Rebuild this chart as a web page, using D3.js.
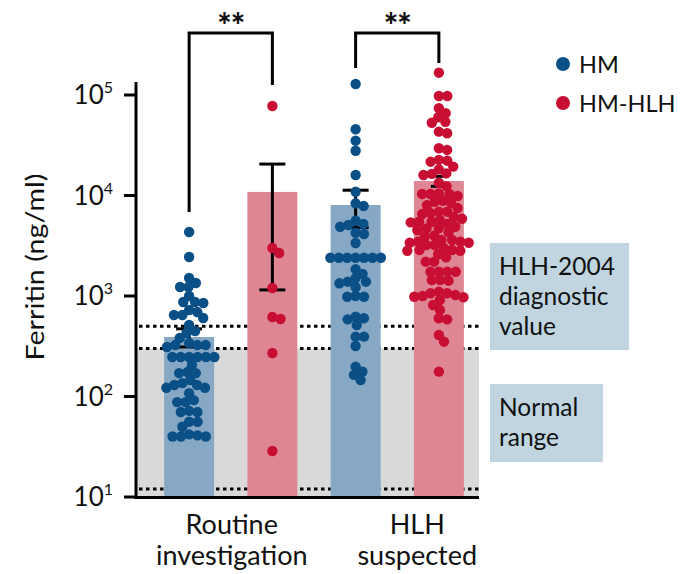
<!DOCTYPE html>
<html>
<head>
<meta charset="utf-8">
<script src="https://cdn.jsdelivr.net/npm/d3@7"></script>
<style>
  html, body { margin: 0; padding: 0; background: #fff; }
  svg { display: block; }
  text { font-family: Lato, "Open Sans", sans-serif; fill: #111; }
</style>
</head>
<body>
<svg id="chart" width="684" height="574"></svg>
<script>
// ---------------- data ----------------
const groups = ["Routine investigation", "HLH suspected"];
const groupLines = [["Routine", "investigation"], ["HLH", "suspected"]];
const seriesNames = ["HM", "HM-HLH"];
const tickValues = [10, 100, 1000, 10000, 100000];
const tickExponents = ["1", "2", "3", "4", "5"];

const hmRoutine = [4335, 2443, 1510, 1230, 1347, 1230, 1000, 871, 871, 851, 726, 693, 647, 647, 604,
  514, 449, 428, 382, 325, 341, 325, 325, 311, 247, 247, 247, 247, 247, 247, 206, 175, 171, 171,
  146, 130, 122, 122, 136, 130, 108, 88, 88, 92, 72, 70, 70, 56, 56, 50, 40, 40, 41, 40, 42];
const hlhRoutine = [77800, 3005, 2680, 1202, 590, 618, 271, 28.7];
const hmSuspected = [128600, 45600, 35100, 27900, 16000, 10900, 7870, 8360, 4890, 4260, 5200, 5610,
  5090, 4140, 3370, 2404, 2404, 2404, 2404, 2404, 2404, 2404, 1845, 1656, 1500, 1388, 1388, 1337,
  1222, 984, 984, 1000, 600, 586, 514, 622, 394, 394, 318, 198, 177, 164, 146];
const hlhSuspected = [166700, 97700, 97700, 73800, 65800, 60000, 54200, 53000, 41600, 43200, 29500,
  28400, 21700, 22600, 22200, 19400, 18200, 16000, 16600, 16400, 13400, 12400, 9890, 10350, 10500,
  10350, 10350, 8670, 8470, 8870, 6900, 6900, 6650, 6550, 5700, 5870, 5480, 5480, 4710, 4710, 4540,
  4890, 3470, 3610, 3610, 3470, 3390, 3390, 3220, 3220, 2820, 2820, 2870, 2870, 2195, 2195, 2430,
  1745, 1745, 1745, 1745, 1420, 1443, 1443, 1104, 1064, 1064, 1023, 984, 971, 1000, 912, 813, 726,
  586, 600, 409, 351, 177, 5200, 4300, 3900, 6100, 7500, 3000, 2600, 8000, 4000, 5400];

const barMeans = [[391, 10850], [8040, 13930]];
const barSEM = [[80, 9700], [3250, 1600]];
const bracketEnds = [[6850, 126000], [186000, 208000]];   // lower ends of the bracket legs
const normalRange = [12, 300];
const diagnosticValue = 500;

// ---------------- layout ----------------
const svg = d3.select("#chart");
const y = d3.scaleLog().domain([10, 100000]).range([497, 95]);
const x0 = d3.scaleBand().domain(groups).range([147.5, 480.5]).padding(0);
const x1 = d3.scalePoint().domain(seriesNames).range([0, x0.bandwidth()]).padding(0.5);
const color = d3.scaleOrdinal().domain(seriesNames).range(["#0b4f87", "#c80f33"]);
const barColor = d3.scaleOrdinal().domain(seriesNames).range(["#87a8c5", "#df8694"]);
const barW = 50;
const plotL = 137, plotR = 479;
const cx = (g, s) => x0(groups[g]) + x1(seriesNames[s]);

// gray normal-range band
svg.append("rect")
  .attr("x", plotL).attr("width", plotR - plotL)
  .attr("y", y(normalRange[1])).attr("height", y(10) - y(normalRange[1]))
  .attr("fill", "#d9d9d9");

// dotted reference lines
[normalRange[0], normalRange[1], diagnosticValue].forEach(v => {
  svg.append("line")
    .attr("x1", plotL + 2).attr("x2", plotR)
    .attr("y1", y(v)).attr("y2", y(v))
    .attr("stroke", "#000").attr("stroke-width", 3)
    .attr("stroke-dasharray", "3.5,3.5");
});

// bars
const allData = [[hmRoutine, hlhRoutine], [hmSuspected, hlhSuspected]];
for (let g = 0; g < 2; g++) for (let s = 0; s < 2; s++) {
  svg.append("rect")
    .attr("x", cx(g, s) - barW / 2).attr("width", barW)
    .attr("y", y(barMeans[g][s])).attr("height", y(10) - y(barMeans[g][s]))
    .attr("fill", barColor(seriesNames[s]));
}

// error bars
const capW = 26;
for (let g = 0; g < 2; g++) for (let s = 0; s < 2; s++) {
  const m = barMeans[g][s], e = barSEM[g][s];
  const c = cx(g, s);
  const w = (g === 1 && s === 1) ? 16 : capW;
  const eb = svg.append("g").attr("stroke", "#000").attr("stroke-width", 3);
  eb.append("line").attr("x1", c).attr("x2", c).attr("y1", y(m + e)).attr("y2", y(m - e));
  eb.append("line").attr("x1", c - w / 2).attr("x2", c + w / 2).attr("y1", y(m + e)).attr("y2", y(m + e));
  eb.append("line").attr("x1", c - w / 2).attr("x2", c + w / 2).attr("y1", y(m - e)).attr("y2", y(m - e));
}

// beeswarm dots
const r = 5.2, minD = 8.4;
function swarm(values) {
  const pts = values.map(v => ({ v, y: y(v) })).sort((a, b) => a.y - b.y);
  const placed = [];
  pts.forEach(p => {
    const cands = [0];
    placed.forEach(q => {
      const dy = Math.abs(q.y - p.y);
      if (dy < minD) {
        const dx = Math.sqrt(minD * minD - dy * dy);
        cands.push(q.x + dx + 0.01, q.x - dx - 0.01);
      }
    });
    cands.sort((a, b) => Math.abs(a) - Math.abs(b));
    for (const c of cands) {
      const ok = placed.every(q => (q.x - c) ** 2 + (q.y - p.y) ** 2 >= minD * minD - 0.001);
      if (ok) { p.x = c; break; }
    }
    placed.push(p);
  });
  return placed;
}
for (let g = 0; g < 2; g++) for (let s = 0; s < 2; s++) {
  const pts = swarm(allData[g][s]);
  svg.append("g").selectAll("circle").data(pts).join("circle")
    .attr("cx", d => cx(g, s) + d.x).attr("cy", d => d.y).attr("r", r)
    .attr("fill", color(seriesNames[s]));
}

// axes
svg.append("line").attr("x1", 136).attr("x2", 136).attr("y1", 82).attr("y2", 499)
  .attr("stroke", "#000").attr("stroke-width", 3);
svg.append("line").attr("x1", 134.5).attr("x2", plotR).attr("y1", 497.5).attr("y2", 497.5)
  .attr("stroke", "#000").attr("stroke-width", 3);
tickValues.forEach((t, i) => {
  svg.append("line").attr("x1", 124).attr("x2", 136).attr("y1", y(t)).attr("y2", y(t))
    .attr("stroke", "#000").attr("stroke-width", 3);
  const tx = svg.append("text").attr("x", 113).attr("y", y(t) + 9)
    .attr("text-anchor", "end").attr("font-size", 26);
  tx.append("tspan").text("10");
  tx.append("tspan").attr("dy", -11).attr("font-size", 16).text(tickExponents[i]);
});

// y label
svg.append("text")
  .attr("transform", "translate(44,267) rotate(-90)")
  .attr("text-anchor", "middle").attr("font-size", 25)
  .attr("textLength", 187).attr("lengthAdjust", "spacingAndGlyphs")
  .text("Ferritin (ng/ml)");

// x labels
const labelOffset = [1, 20];
groups.forEach((g, i) => {
  const t = svg.append("text").attr("text-anchor", "middle").attr("font-size", 27);
  groupLines[i].forEach((ln, j) => {
    t.append("tspan").attr("x", x0(g) + x0.bandwidth() / 2 + labelOffset[i])
      .attr("y", 534 + j * 31).text(ln);
  });
});

// significance brackets
groups.forEach((g, i) => {
  const a = cx(i, 0), b = cx(i, 1), top = 33;
  svg.append("path")
    .attr("d", `M${a},${y(bracketEnds[i][0])}V${top}H${b}V${y(bracketEnds[i][1])}`)
    .attr("fill", "none").attr("stroke", "#000").attr("stroke-width", 3);
  svg.append("text").attr("x", (a + b) / 2).attr("y", 38)
    .attr("text-anchor", "middle").attr("font-size", 34).attr("font-weight", "900")
    .attr("letter-spacing", -1)
    .text("**");
});

// legend
seriesNames.forEach((s, i) => {
  const ly = 64 + i * 39;
  svg.append("circle").attr("cx", 563).attr("cy", ly).attr("r", 7).attr("fill", color(s));
  svg.append("text").attr("x", 579).attr("y", ly + 8.5).attr("font-size", 23.5).text(s);
});

// annotation boxes
const boxes = [
  { x: 490, y: 243, w: 139, h: 107, lines: ["HLH-2004", "diagnostic", "value"] },
  { x: 490, y: 384, w: 113, h: 78, lines: ["Normal", "range"] }
];
boxes.forEach(b => {
  svg.append("rect").attr("x", b.x).attr("y", b.y).attr("width", b.w).attr("height", b.h)
    .attr("fill", "#c0d5df");
  const t = svg.append("text").attr("font-size", 24.5);
  b.lines.forEach((ln, j) => {
    t.append("tspan").attr("x", b.x + 9).attr("y", b.y + 32 + j * 30).text(ln);
  });
});
</script>
</body>
</html>
